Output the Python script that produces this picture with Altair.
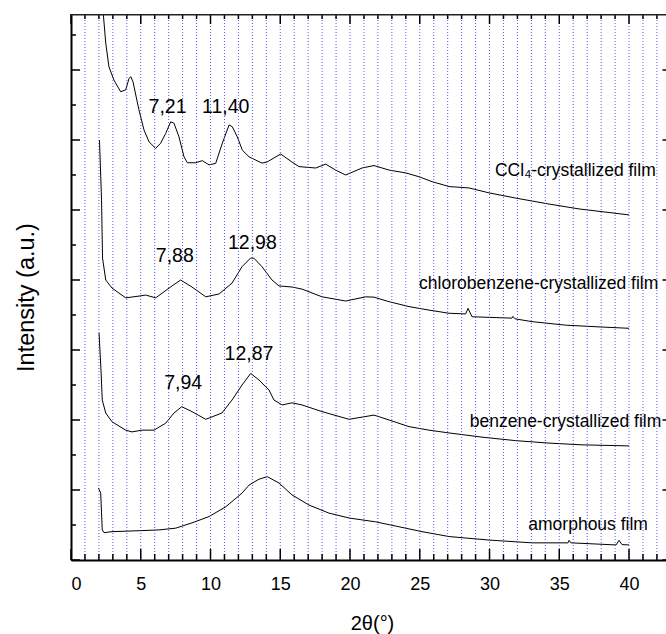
import altair as alt
import pandas as pd

# ---------------- data ----------------
ccl4_x = [2.17, 2.49, 2.72, 3.08, 3.56, 3.92, 4.16, 4.28, 4.44, 4.87, 5.23, 5.59, 6.07, 6.43, 6.79,
          7.15, 7.38, 7.74, 8.10, 8.34, 8.94, 9.41, 9.89, 10.37, 10.85, 11.33, 11.56, 11.92, 12.28,
          12.76, 13.48, 13.69, 14.05, 15.03, 15.84, 16.34, 17.54, 18.26, 18.97, 19.69, 20.86, 21.72,
          22.80, 23.99, 24.95, 25.88, 27.10, 28.53, 29.96, 31.88, 34.27, 36.42, 40.0]
ccl4_y = [16.3, 14.77, 14.09, 13.71, 13.38, 13.43, 13.76, 13.81, 13.67, 12.86, 12.29, 11.95, 11.76,
          11.91, 12.19, 12.52, 12.48, 12.09, 11.52, 11.35, 11.35, 11.41, 11.29, 11.33, 11.91, 12.43,
          12.38, 12.09, 11.71, 11.52, 11.38, 11.34, 11.37, 11.60, 11.37, 11.24, 11.20, 11.31, 11.14,
          11.00, 11.20, 11.27, 11.14, 11.06, 10.95, 10.81, 10.67, 10.63, 10.49, 10.34, 10.17, 10.03, 9.86]

chloro_x = [2.04, 2.19, 2.26, 2.49, 2.94, 3.92, 4.87, 5.35, 6.07, 7.03, 7.86, 8.67, 9.66, 10.61,
            11.54, 12.26, 12.88, 13.12, 13.69, 14.41, 14.91, 15.84, 16.56, 17.99, 19.69, 21.13, 21.72,
            22.80, 24.23, 25.66, 27.10, 28.29, 28.46, 28.75, 31.61, 31.68, 31.83, 33.05, 35.46, 37.85, 40.0]
chloro_y = [12.0, 10.29, 8.63, 8.0, 7.77, 7.49, 7.54, 7.57, 7.49, 7.77, 8.0, 7.8, 7.52, 7.6, 7.91,
            8.38, 8.63, 8.62, 8.38, 8.0, 7.83, 7.8, 7.74, 7.52, 7.4, 7.52, 7.51, 7.38, 7.24, 7.14, 7.05,
            7.03, 7.19, 6.95, 6.91, 6.96, 6.89, 6.81, 6.71, 6.66, 6.62]

benz_x = [2.01, 2.15, 2.24, 2.49, 2.94, 3.92, 4.37, 5.09, 5.95, 6.79, 7.38, 7.94, 8.67, 9.66, 10.82,
          11.54, 12.26, 12.88, 13.48, 14.19, 14.55, 15.13, 15.84, 16.56, 17.99, 19.93, 21.72, 22.80,
          24.23, 25.66, 27.10, 29.46, 31.88, 34.27, 36.63, 40.0]
benz_y = [6.49, 5.43, 4.57, 4.2, 3.95, 3.71, 3.66, 3.71, 3.71, 3.91, 4.2, 4.38, 4.24, 4.02, 4.2, 4.57,
          5.0, 5.33, 5.14, 4.86, 4.57, 4.43, 4.49, 4.43, 4.24, 4.02, 4.14, 4.0, 3.81, 3.71, 3.63, 3.51,
          3.41, 3.34, 3.29, 3.26]

amor_x = [1.96, 2.13, 2.24, 2.37, 2.94, 5.09, 6.31, 7.51, 8.67, 9.89, 11.09, 12.26, 12.76, 13.48,
          14.07, 14.91, 15.84, 17.06, 18.49, 19.93, 21.84, 23.51, 25.16, 27.10, 29.96, 33.05, 35.63,
          35.70, 35.84, 39.07, 39.28, 39.50, 40.0]
amor_y = [2.06, 1.91, 0.86, 0.78, 0.81, 0.84, 0.86, 0.91, 1.06, 1.24, 1.52, 1.91, 2.14, 2.31, 2.38,
          2.20, 1.86, 1.57, 1.34, 1.20, 1.09, 0.95, 0.81, 0.67, 0.57, 0.49, 0.49, 0.56, 0.49, 0.43,
          0.56, 0.44, 0.43]

peak_text = ["7,21", "11,40", "7,88", "12,98", "7,94", "12,87"]
peak_x = [6.92, 11.09, 7.44, 13.0, 8.04, 12.76]
peak_y = [12.76, 12.76, 8.52, 8.9, 4.88, 5.71]

name_text = ["CCl\u2084-crystallized film", "chlorobenzene-crystallized film",
             "benzene-crystallized film", "amorphous film"]
name_x = [30.39, 24.95, 28.58, 32.78]
name_y = [10.97, 7.74, 3.81, 0.86]

grid_x = list(range(1, 43))
x_major = list(range(0, 45, 5))
x_minor = [v for v in range(0, 43) if v % 5 != 0]
y_major = list(range(0, 16, 2))
y_minor = list(range(1, 16, 2))
x_labels = [0, 5, 10, 15, 20, 25, 30, 35, 40]

X_DOMAIN = [0, 42.65]
Y_DOMAIN = [0, 15.6]
W, H = 595, 546
FONT = "Liberation Sans"

# ---------------- tables ----------------
curves = pd.concat([
    pd.DataFrame({"x": ccl4_x, "y": ccl4_y, "s": "ccl4"}),
    pd.DataFrame({"x": chloro_x, "y": chloro_y, "s": "chloro"}),
    pd.DataFrame({"x": benz_x, "y": benz_y, "s": "benz"}),
    pd.DataFrame({"x": amor_x, "y": amor_y, "s": "amor"}),
], ignore_index=True)
peaks = pd.DataFrame({"x": peak_x, "y": peak_y, "t": peak_text})
names = pd.DataFrame({"x": name_x, "y": name_y, "t": name_text})

xs = alt.Scale(domain=X_DOMAIN, nice=False, zero=False)
ys = alt.Scale(domain=Y_DOMAIN, nice=False, zero=False)

xaxis = alt.Axis(
    values=x_labels, ticks=False, grid=False, domain=True, domainColor="black", domainWidth=2,
    labelFont=FONT, labelFontSize=18, labelColor="black", labelPadding=15,
    title="2θ(°)", titleFont=FONT, titleFontSize=20, titleFontWeight="normal", titleColor="black",
    titleY=69, titleBaseline="alphabetic", titleX=301)
yaxis = alt.Axis(
    labels=False, ticks=False, grid=False, domain=True, domainColor="black", domainWidth=2,
    title="Intensity (a.u.)", titleFont=FONT, titleFontSize=23.5, titleFontWeight="normal",
    titleColor="black", titleX=-38, titleY=283, titleAngle=-90, titleBaseline="alphabetic",
    titleAlign="center")

X = lambda f: alt.X(f, scale=xs, axis=xaxis)
Y = lambda f: alt.Y(f, scale=ys, axis=yaxis)

lines = alt.Chart(curves).mark_line(color="black", strokeWidth=1, clip=True).encode(
    x=X("x:Q"), y=Y("y:Q"), detail="s:N", order="x:Q")

grid = alt.Chart(pd.DataFrame({"g": grid_x})).mark_rule(
    color="#2a2aff", strokeWidth=1, strokeDash=[1, 2], opacity=0.8
).encode(x=X("g:Q"))

def xticks(vals, y0, y1):
    return alt.Chart(pd.DataFrame({"v": vals})).mark_rule(color="black", strokeWidth=1.5).encode(
        x=X("v:Q"), y=alt.value(y0), y2=alt.value(y1))

def yticks(vals, x0, x1):
    return alt.Chart(pd.DataFrame({"v": vals})).mark_rule(color="black", strokeWidth=1.5).encode(
        y=Y("v:Q"), x=alt.value(x0), x2=alt.value(x1))

ticks = [
    xticks(x_major, H, H - 11), xticks(x_minor, H, H - 6),
    xticks(x_major, 0, 10), xticks(x_minor, 0, 5),
    yticks(y_major, 0, 9), yticks(y_minor, 0, 5),
    yticks(y_major, W - 3.5, W),
]

top_line = alt.Chart(pd.DataFrame({"v": [0]})).mark_rule(color="#222222", strokeWidth=1.5).encode(
    x=alt.value(0), x2=alt.value(W), y=alt.value(0.75))

peak_labels = alt.Chart(peaks).mark_text(
    font=FONT, fontSize=19.5, color="black", align="center", baseline="alphabetic"
).encode(x=X("x:Q"), y=Y("y:Q"), text="t:N")

name_labels = alt.Chart(names).mark_text(
    font=FONT, fontSize=17.5, color="black", align="left", baseline="alphabetic"
).encode(x=X("x:Q"), y=Y("y:Q"), text="t:N")

chart = alt.layer(lines, grid, *ticks, top_line, peak_labels, name_labels).properties(
    width=W, height=H,
    autosize=alt.AutoSizeParams(type="none"),
    padding={"left": 71, "top": 14, "right": 0, "bottom": 74},
    background="white",
).configure_view(stroke=None)

chart.save("out.html", embed_options={"renderer": "svg", "actions": False})
